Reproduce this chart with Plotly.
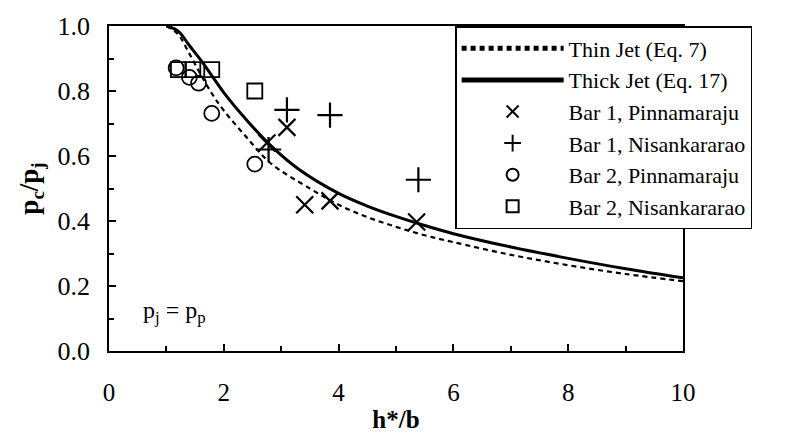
import plotly.graph_objects as go

# Theoretical curves
thin_x = [1.0, 1.2, 1.4, 1.6, 1.8, 2.0, 2.4, 2.8, 3.5, 4.0, 4.5, 5.0, 5.5, 6.0, 7.0, 8.0, 9.0, 10.0]
thin_y = [1.0, 0.975, 0.915, 0.85, 0.79, 0.74, 0.657, 0.58, 0.50, 0.45, 0.412, 0.382, 0.356, 0.335, 0.296, 0.264, 0.237, 0.215]
thick_x = [1.0, 1.2, 1.4, 1.6, 1.8, 2.0, 2.4, 2.8, 3.3, 4.0, 4.5, 5.0, 5.5, 6.0, 7.0, 8.0, 9.0, 10.0]
thick_y = [1.0, 0.985, 0.94, 0.895, 0.845, 0.795, 0.71, 0.635, 0.56, 0.485, 0.446, 0.414, 0.386, 0.361, 0.32, 0.285, 0.253, 0.225]

# Experimental data
b1p_x = [2.75, 3.10, 3.41, 3.85, 5.36]
b1p_y = [0.64, 0.688, 0.45, 0.462, 0.397]
b1n_x = [2.78, 3.10, 3.85, 5.39]
b1n_y = [0.62, 0.742, 0.726, 0.527]
b2p_x = [1.17, 1.40, 1.56, 1.79, 2.54]
b2p_y = [0.871, 0.842, 0.824, 0.731, 0.575]
b2n_x = [1.21, 1.46, 1.79, 2.54]
b2n_y = [0.866, 0.866, 0.866, 0.80]

x_ticks = [0, 2, 4, 6, 8, 10]
y_ticks = [0.0, 0.2, 0.4, 0.6, 0.8, 1.0]

SERIF = "Liberation Serif"

fig = go.Figure()
fig.add_trace(go.Scatter(x=thin_x, y=thin_y, mode="lines", name="Thin Jet (Eq. 7)",
                         line=dict(color="black", width=2.2, dash="5px,4px", shape="spline")))
fig.add_trace(go.Scatter(x=thick_x, y=thick_y, mode="lines", name="Thick Jet (Eq. 17)",
                         line=dict(color="black", width=3, shape="spline")))
fig.add_trace(go.Scatter(x=b1p_x, y=b1p_y, mode="markers", name="Bar 1, Pinnamaraju",
                         marker=dict(symbol="x-thin-open", size=17, color="black",
                                     line=dict(color="black", width=2.2))))
fig.add_trace(go.Scatter(x=b1n_x, y=b1n_y, mode="markers", name="Bar 1, Nisankararao",
                         marker=dict(symbol="cross-thin-open", size=18, color="black",
                                     line=dict(color="black", width=2.2))))
fig.add_trace(go.Scatter(x=b2p_x, y=b2p_y, mode="markers", name="Bar 2, Pinnamaraju",
                         marker=dict(symbol="circle-open", size=15, color="black",
                                     line=dict(color="black", width=1.8))))
fig.add_trace(go.Scatter(x=b2n_x, y=b2n_y, mode="markers", name="Bar 2, Nisankararao",
                         marker=dict(symbol="square-open", size=15, color="black",
                                     line=dict(color="black", width=1.8))))

fig.add_annotation(x=0.55, y=0.12, xref="x", yref="y", xanchor="left", yanchor="middle",
                   text="p<sub>j</sub> = p<sub>p</sub>", showarrow=False,
                   font=dict(family=SERIF, size=24, color="black"))

axis_common = dict(showgrid=False, zeroline=False, showline=True, linecolor="black",
                   linewidth=1.5, mirror=True, ticks="inside", tickcolor="black",
                   tickwidth=1.5, ticklen=7)

fig.update_layout(
    width=787, height=441,
    margin=dict(l=109, r=104, t=18, b=77),
    paper_bgcolor="white", plot_bgcolor="white",
    showlegend=True,
    legend=dict(x=0.603, y=1.0, xanchor="left", yanchor="top",
                bgcolor="white", bordercolor="black", borderwidth=1.5,
                font=dict(family=SERIF, size=22, color="black"),
                itemwidth=102, tracegroupgap=0, itemsizing="constant"),
    xaxis=dict(range=[0, 10], tickvals=x_ticks, ticktext=[str(v) for v in x_ticks],
               minor=dict(dtick=1, ticks="inside", ticklen=5, tickcolor="black", tickwidth=1.5),
               ticklabelstandoff=18,
               tickfont=dict(family=SERIF, size=25, color="black"),
               title=dict(text="<b>h*/b</b>", font=dict(family=SERIF, size=25, color="black"),
                          standoff=6),
               **axis_common),
    yaxis=dict(range=[0, 1.0], tickvals=y_ticks, ticktext=[f"{v:.1f}" for v in y_ticks],
               minor=dict(dtick=0.1, ticks="inside", ticklen=5, tickcolor="black", tickwidth=1.5),
               ticklabelstandoff=12,
               tickfont=dict(family=SERIF, size=26, color="black"),
               title=dict(text="<b>p<sub>c</sub>/p<sub>j</sub></b>",
                          font=dict(family=SERIF, size=27, color="black"), standoff=11),
               **axis_common),
)

fig.write_html("out.html")
